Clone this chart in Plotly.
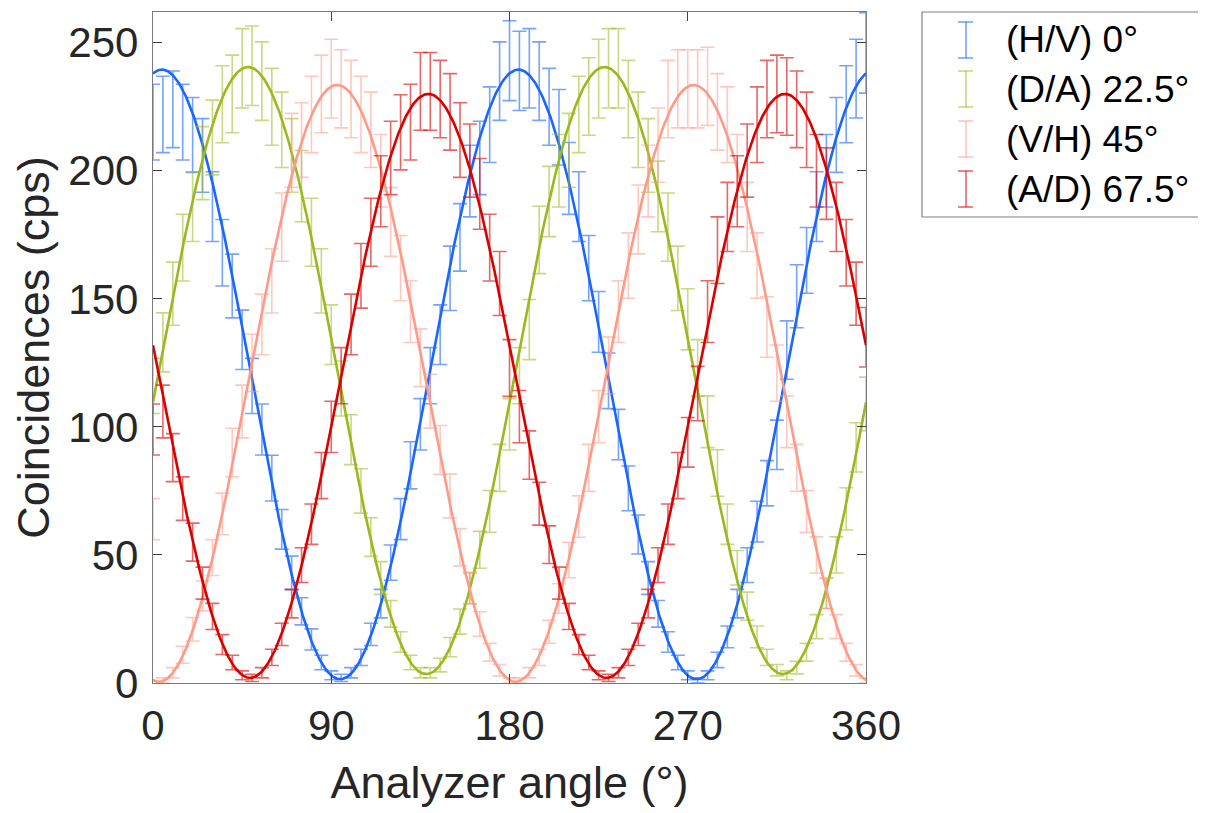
import numpy as np
import plotly.graph_objects as go

# ---------------- data ----------------
angles = list(range(0, 361, 5))  # analyzer angle (deg)

hv_0 = [219, 222, 224, 219, 214, 206, 186, 168, 155, 134, 116, 99, 80, 60, 43, 28, 17, 8, 3,
        2, 4, 10, 19, 31, 47, 64, 85, 101, 120, 136, 158, 174, 196, 205, 218, 235, 243,
        239, 240, 235, 225, 217, 197, 186, 162, 141, 118, 97, 76, 58, 41, 27, 16, 8, 3,
        1, 3, 9, 18, 31, 46, 63, 78, 93, 130, 151, 165, 186, 200, 214, 226, 236, 246]

da_225 = [116, 133, 152, 170, 186, 203, 213, 226, 230, 240, 241, 235, 225, 216, 206, 194, 176, 157, 136,
          115, 95, 75, 57, 41, 27, 16, 8, 4, 4, 7, 14, 24, 37, 52, 67, 84, 101,
          120, 138, 173, 188, 200, 208, 222, 229, 236, 240, 240, 228, 216, 206, 190, 178, 158, 142,
          123, 102, 82, 62, 45, 30, 18, 10, 5, 3, 6, 12, 22, 35, 50, 68, 92, 109]

vh_45 = [64, 1, 4, 11, 21, 34, 49, 66, 90, 106, 125, 140, 157, 178, 208, 212, 222, 230, 236,
         232, 228, 222, 216, 200, 180, 162, 145, 127, 110, 91, 73, 53, 37, 23, 12, 5, 1,
         1, 4, 10, 20, 33, 48, 65, 84, 104, 124, 145, 163, 181, 196, 210, 228, 232, 232,
         232, 233, 223, 218, 200, 182, 163, 139, 121, 102, 84, 67, 50, 35, 22, 12, 5, 1]

ad_675 = [99, 106, 88, 72, 55, 39, 26, 15, 8, 3, 2, 4, 10, 19, 31, 46, 62, 81, 100,
          120, 140, 159, 176, 192, 205, 215, 219, 231, 231, 228, 223, 212, 204, 191, 170, 156, 123,
          104, 89, 70, 54, 39, 26, 15, 8, 3, 2, 4, 10, 19, 31, 46, 62, 81, 94,
          113, 145, 169, 182, 192, 204, 218, 228, 230, 229, 224, 216, 200, 195, 182, 168, 152, 135]

# fitted Malus-law curves: offset, amplitude, phase (deg)
fit_offset = [1.5, 3.5, 0.5, 2.0]
fit_amp = [238.0, 237.0, 233.0, 228.0]
fit_phase = [4.5, 48.0, 93.0, 139.0]

labels = ["(H/V) 0°", "(D/A) 22.5°", "(V/H) 45°", "(A/D) 67.5°"]
series = [hv_0, da_225, vh_45, ad_675]

line_colors = ["#1a66ff", "#9bb81e", "#ff9a88", "#d90000"]
bar_colors = ["rgba(26,102,255,0.6)", "rgba(155,184,30,0.55)",
              "rgba(255,154,136,0.55)", "rgba(217,0,0,0.6)"]

x_ticks = [0, 90, 180, 270, 360]
y_ticks = [0, 50, 100, 150, 200, 250]

FONT = "Liberation Sans, Arial, sans-serif"
TXT = "#262626"

fig = go.Figure()
theta = np.linspace(0, 360, 721)
for i, ys in enumerate(series):
    y = np.array(ys, dtype=float)
    err = np.sqrt(np.maximum(y, 1.0))  # Poisson (counting) uncertainty
    fig.add_trace(go.Scatter(
        x=angles, y=y, mode="markers",
        marker=dict(size=1, color="rgba(0,0,0,0)"),
        error_y=dict(type="data", array=err, visible=True,
                     color=bar_colors[i], thickness=1.6, width=7),
        cliponaxis=False, showlegend=False, hoverinfo="skip"))
    fit = fit_offset[i] + fit_amp[i] * np.cos(np.radians(theta - fit_phase[i])) ** 2
    fig.add_trace(go.Scatter(
        x=theta, y=fit, mode="lines",
        line=dict(color=line_colors[i], width=2.6),
        showlegend=False, hoverinfo="skip"))

# The page body has an 8 px margin, so the figure is drawn 8 px smaller
# and all layout pixel positions below are in figure coordinates.
FIG_W, FIG_H = 1198, 805
OFF = 8
L, R, T, B = 153 - OFF, 866 - OFF, 12 - OFF, 683 - OFF
W, H = R - L, B - T
def px(x):
    return (x - OFF - L) / W
def py(y):
    return (B - (y - OFF)) / H

shapes = [dict(type="rect", xref="paper", yref="paper",
               x0=px(922), x1=px(1212), y0=py(217), y1=py(12),
               line=dict(color="#808080", width=1.2), fillcolor="white", layer="below")]
annotations = []
row_y = [40, 89, 139, 189]
for i, lab in enumerate(labels):
    cy = row_y[i]
    c = bar_colors[i]
    shapes.append(dict(type="line", xref="paper", yref="paper",
                       x0=px(966), x1=px(966), y0=py(cy - 18), y1=py(cy + 18),
                       line=dict(color=c, width=1.6)))
    for dy in (-18, 18):
        shapes.append(dict(type="line", xref="paper", yref="paper",
                           x0=px(958), x1=px(973), y0=py(cy + dy), y1=py(cy + dy),
                           line=dict(color=c, width=1.6)))
    annotations.append(dict(xref="paper", yref="paper", x=px(1004), y=py(cy),
                            text=lab, showarrow=False, xanchor="left", yanchor="middle",
                            font=dict(family=FONT, size=37, color="#000000")))

axis_common = dict(showline=True, linecolor="#7a7a7a", linewidth=1.3, mirror="ticks",
                   ticks="inside", ticklen=9, tickwidth=1.3, tickcolor="#404040",
                   showgrid=False, zeroline=False, automargin=False,
                   tickfont=dict(family=FONT, size=42, color=TXT))

fig.update_layout(
    width=FIG_W, height=FIG_H,
    margin=dict(l=L, r=FIG_W - R, t=T, b=FIG_H - B, autoexpand=False),
    paper_bgcolor="white", plot_bgcolor="white",
    xaxis=dict(range=[0, 360], tickvals=x_ticks, ticktext=[str(v) for v in x_ticks],
               ticklabelstandoff=5,
               title=dict(text="Analyzer angle (°)", standoff=18,
                          font=dict(family=FONT, size=45, color=TXT)),
               **axis_common),
    yaxis=dict(range=[0, 262], tickvals=y_ticks, ticktext=[str(v) for v in y_ticks],
               ticklabelstandoff=5,
               title=dict(text="Coincidences (cps)", standoff=4,
                          font=dict(family=FONT, size=45, color=TXT)),
               **axis_common),
    shapes=shapes, annotations=annotations,
)

fig.write_html("out.html")
